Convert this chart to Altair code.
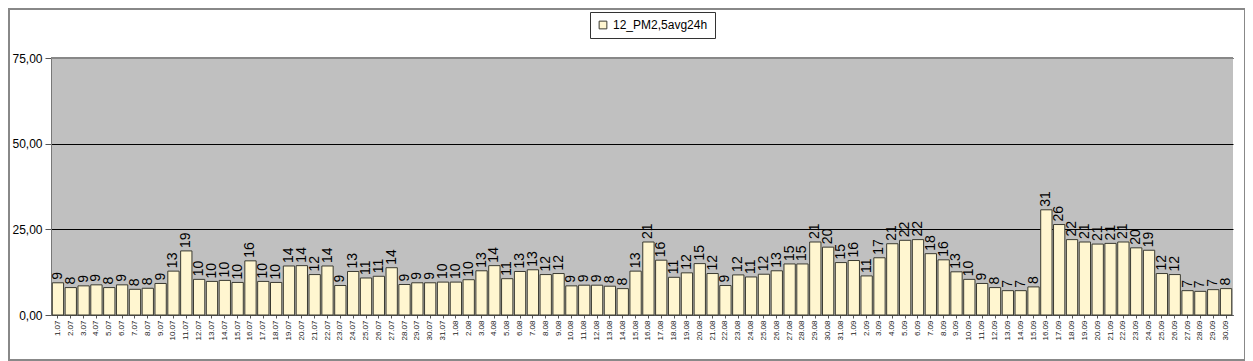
import altair as alt
import pandas as pd

july = [9.4, 8.0, 8.5, 8.8, 8.0, 8.8, 7.5, 7.8, 9.2, 12.8, 18.7, 10.4, 9.8, 10.1, 9.5, 15.8,
        9.8, 9.5, 14.3, 14.4, 11.8, 14.3, 8.6, 12.7, 10.8, 11.3, 13.8, 8.9, 9.4, 9.4, 9.6]
august = [9.6, 10.3, 12.9, 14.4, 10.6, 12.7, 13.2, 11.8, 12.1, 8.5, 8.7, 8.7, 8.4, 7.7, 12.8, 21.3,
          16.0, 11.0, 12.3, 15.0, 12.1, 8.6, 11.7, 11.1, 11.9, 12.9, 14.9, 14.9, 21.3, 19.8, 15.3]
september = [15.9, 11.4, 16.7, 20.8, 21.8, 22.0, 17.9, 16.1, 12.6, 10.4, 9.2, 8.0, 7.1, 7.1, 8.2,
             30.7, 26.4, 22.0, 21.3, 20.7, 20.9, 21.3, 19.6, 18.9, 12.1, 11.8, 7.1, 6.9, 7.4, 7.7]

dates = ([f"{d}.07" for d in range(1, 32)] + [f"{d}.08" for d in range(1, 32)]
         + [f"{d}.09" for d in range(1, 31)])
values = july + august + september
series_name = "12_PM2,5avg24h"

df = pd.DataFrame({"date": dates, "value": values, "series": series_name})

W, H = 1182, 257

x = alt.X("date:N", sort=None,
          scale=alt.Scale(paddingInner=0.12, paddingOuter=0.1),
          axis=alt.Axis(title=None, labelAngle=270, labelFontSize=8, labelColor="#222",
                        labelFont="Liberation Sans", labelPadding=2, tickSize=3,
                        tickColor="#555", domainColor="#555", labelAlign="right",
                        labelBaseline="middle"))
y = alt.Y("value:Q", scale=alt.Scale(domain=[0, 75], nice=False),
          axis=alt.Axis(title=None, values=[0, 25, 50, 75], grid=True, gridColor="black",
                        gridWidth=1, tickSize=6, tickColor="#555", domainColor="#777",
                        labelFont="Liberation Sans", labelFontSize=12, labelColor="black",
                        labelPadding=3,
                        labelExpr="replace(format(datum.value, '.2f'), '.', ',')"))

bars = alt.Chart(df).mark_bar(stroke="#3a3a30", strokeWidth=1).encode(
    x=x, y=y,
    color=alt.Color("series:N",
                    scale=alt.Scale(range=["#FFF6D0"]),
                    legend=alt.Legend(title=None, orient="none", legendX=539, legendY=-46,
                                      strokeColor="#333", fillColor="white", padding=7,
                                      symbolType="square", symbolSize=60,
                                      symbolStrokeColor="#3a3a30", symbolStrokeWidth=1,
                                      labelFont="Liberation Sans", labelFontSize=12,
                                      labelColor="black", rowPadding=0)),
)

labels = alt.Chart(df).mark_text(angle=270, align="left", baseline="middle", dx=3,
                                 font="Liberation Sans", fontSize=14, color="black").encode(
    x=alt.X("date:N", sort=None), y="value:Q",
    text=alt.Text("value:Q", format=".0f"),
)

frame = alt.Chart(df).mark_rect(fill=None, stroke="#888", strokeWidth=1.5).encode(
    x=alt.value(-42), x2=alt.value(1194), y=alt.value(-49), y2=alt.value(302),
)

top_line = alt.Chart(df).mark_rule(color="#888", strokeWidth=1.5).encode(
    x=alt.value(0), x2=alt.value(W), y=alt.value(0)
)

chart = alt.layer(frame, bars, labels, top_line).properties(
    width=W, height=H,
    background="white",
    autosize=alt.AutoSizeParams(type="none"),
    padding={"left": 43, "top": 50, "right": 12, "bottom": 46},
).configure_view(fill="#C0C0C0", stroke=None)

chart.save("out.html", embed_options={"renderer": "svg", "actions": False})
